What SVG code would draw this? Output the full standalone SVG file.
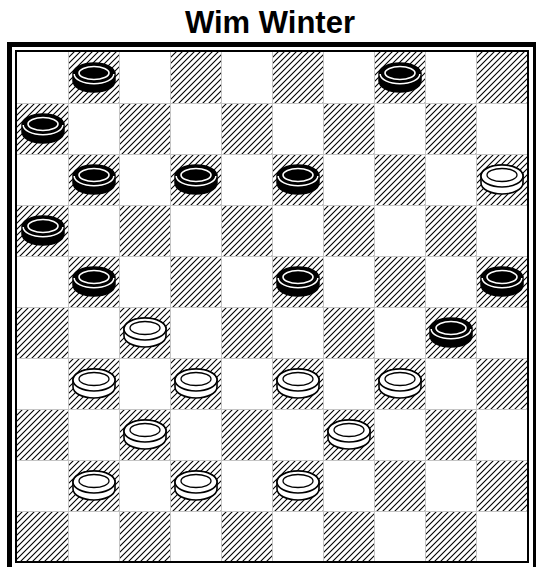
<svg xmlns="http://www.w3.org/2000/svg" xmlns:xlink="http://www.w3.org/1999/xlink" width="536" height="567" viewBox="0 0 536 567">
<style>
.title{font-family:"Liberation Sans",Arial,sans-serif;font-weight:bold;font-size:31px;fill:#000}
.dark{fill:url(#hatch)}
.grid{stroke:#c4c4c4;stroke-width:1;fill:none}
</style>
<defs>
<pattern id="hatch" patternUnits="userSpaceOnUse" x="0" y="0" width="6" height="6">
<rect width="6" height="6" fill="#fff"/>
<path d="M-1,1 L1,-1 M0,6 L6,0 M5,7 L7,5" stroke="#000" stroke-width="1.1"/>
</pattern>
<path id="sil" d="M-20.5,-3.5 A21,11 0 0 1 21.5,-3.5 L21.5,3.5 A21,11 0 0 1 -20.5,3.5 Z"/>
<g id="bp">
<use xlink:href="#sil" fill="#000" stroke="#000" stroke-width="1.5"/>
<path d="M-19.3,-3.5 A19.8,9.8 0 0 0 20.3,-3.5" fill="none" stroke="#fff" stroke-width="1.5"/>
<ellipse cx="0.5" cy="-4.5" rx="15" ry="6.5" fill="none" stroke="#fff" stroke-width="1.6"/>
</g>
<g id="wp">
<use xlink:href="#sil" fill="#fff" stroke="#000" stroke-width="1.6"/>
<ellipse cx="0.5" cy="-3.5" rx="21" ry="11" fill="#fff" stroke="#000" stroke-width="1.5"/>
<ellipse cx="0.5" cy="-4.5" rx="15" ry="6.5" fill="none" stroke="#000" stroke-width="1.3"/>
</g>
</defs>
<rect width="536" height="567" fill="#fff"/>
<text class="title" x="270" y="33" text-anchor="middle">Wim Winter</text>
<g id="board">
<rect x="9.5" y="44.5" width="526" height="525" fill="none" stroke="#000" stroke-width="5"/>
<rect x="17" y="52" width="510" height="510" fill="#fff"/>
<g id="dark-squares">
<rect class="dark" x="68" y="52" width="51" height="51"/><rect class="dark" x="170" y="52" width="51" height="51"/><rect class="dark" x="272" y="52" width="51" height="51"/><rect class="dark" x="374" y="52" width="51" height="51"/><rect class="dark" x="476" y="52" width="51" height="51"/>
<rect class="dark" x="17" y="103" width="51" height="51"/><rect class="dark" x="119" y="103" width="51" height="51"/><rect class="dark" x="221" y="103" width="51" height="51"/><rect class="dark" x="323" y="103" width="51" height="51"/><rect class="dark" x="425" y="103" width="51" height="51"/>
<rect class="dark" x="68" y="154" width="51" height="51"/><rect class="dark" x="170" y="154" width="51" height="51"/><rect class="dark" x="272" y="154" width="51" height="51"/><rect class="dark" x="374" y="154" width="51" height="51"/><rect class="dark" x="476" y="154" width="51" height="51"/>
<rect class="dark" x="17" y="205" width="51" height="51"/><rect class="dark" x="119" y="205" width="51" height="51"/><rect class="dark" x="221" y="205" width="51" height="51"/><rect class="dark" x="323" y="205" width="51" height="51"/><rect class="dark" x="425" y="205" width="51" height="51"/>
<rect class="dark" x="68" y="256" width="51" height="51"/><rect class="dark" x="170" y="256" width="51" height="51"/><rect class="dark" x="272" y="256" width="51" height="51"/><rect class="dark" x="374" y="256" width="51" height="51"/><rect class="dark" x="476" y="256" width="51" height="51"/>
<rect class="dark" x="17" y="307" width="51" height="51"/><rect class="dark" x="119" y="307" width="51" height="51"/><rect class="dark" x="221" y="307" width="51" height="51"/><rect class="dark" x="323" y="307" width="51" height="51"/><rect class="dark" x="425" y="307" width="51" height="51"/>
<rect class="dark" x="68" y="358" width="51" height="51"/><rect class="dark" x="170" y="358" width="51" height="51"/><rect class="dark" x="272" y="358" width="51" height="51"/><rect class="dark" x="374" y="358" width="51" height="51"/><rect class="dark" x="476" y="358" width="51" height="51"/>
<rect class="dark" x="17" y="409" width="51" height="51"/><rect class="dark" x="119" y="409" width="51" height="51"/><rect class="dark" x="221" y="409" width="51" height="51"/><rect class="dark" x="323" y="409" width="51" height="51"/><rect class="dark" x="425" y="409" width="51" height="51"/>
<rect class="dark" x="68" y="460" width="51" height="51"/><rect class="dark" x="170" y="460" width="51" height="51"/><rect class="dark" x="272" y="460" width="51" height="51"/><rect class="dark" x="374" y="460" width="51" height="51"/><rect class="dark" x="476" y="460" width="51" height="51"/>
<rect class="dark" x="17" y="511" width="51" height="51"/><rect class="dark" x="119" y="511" width="51" height="51"/><rect class="dark" x="221" y="511" width="51" height="51"/><rect class="dark" x="323" y="511" width="51" height="51"/><rect class="dark" x="425" y="511" width="51" height="51"/>
</g>
<path class="grid" d="M68.5,52V562M119.5,52V562M170.5,52V562M221.5,52V562M272.5,52V562M323.5,52V562M374.5,52V562M425.5,52V562M476.5,52V562M17,103.5H527M17,154.5H527M17,205.5H527M17,256.5H527M17,307.5H527M17,358.5H527M17,409.5H527M17,460.5H527M17,511.5H527"/>
<rect x="16" y="51" width="512" height="511" fill="none" stroke="#000" stroke-width="2"/>
</g>
<g id="pieces">
<g id="b-1-0"><use xlink:href="#bp" x="93.5" y="77.5"/></g>
<g id="b-7-0"><use xlink:href="#bp" x="399.5" y="77.5"/></g>
<g id="b-0-1"><use xlink:href="#bp" x="42.5" y="128.5"/></g>
<g id="b-1-2"><use xlink:href="#bp" x="93.5" y="179.5"/></g>
<g id="b-3-2"><use xlink:href="#bp" x="195.5" y="179.5"/></g>
<g id="b-5-2"><use xlink:href="#bp" x="297.5" y="179.5"/></g>
<g id="w-9-2"><use xlink:href="#wp" x="501.5" y="179.5"/></g>
<g id="b-0-3"><use xlink:href="#bp" x="42.5" y="230.5"/></g>
<g id="b-1-4"><use xlink:href="#bp" x="93.5" y="281.5"/></g>
<g id="b-5-4"><use xlink:href="#bp" x="297.5" y="281.5"/></g>
<g id="b-9-4"><use xlink:href="#bp" x="501.5" y="281.5"/></g>
<g id="w-2-5"><use xlink:href="#wp" x="144.5" y="332.5"/></g>
<g id="b-8-5"><use xlink:href="#bp" x="450.5" y="332.5"/></g>
<g id="w-1-6"><use xlink:href="#wp" x="93.5" y="383.5"/></g>
<g id="w-3-6"><use xlink:href="#wp" x="195.5" y="383.5"/></g>
<g id="w-5-6"><use xlink:href="#wp" x="297.5" y="383.5"/></g>
<g id="w-7-6"><use xlink:href="#wp" x="399.5" y="383.5"/></g>
<g id="w-2-7"><use xlink:href="#wp" x="144.5" y="434.5"/></g>
<g id="w-6-7"><use xlink:href="#wp" x="348.5" y="434.5"/></g>
<g id="w-1-8"><use xlink:href="#wp" x="93.5" y="485.5"/></g>
<g id="w-3-8"><use xlink:href="#wp" x="195.5" y="485.5"/></g>
<g id="w-5-8"><use xlink:href="#wp" x="297.5" y="485.5"/></g>
</g>
</svg>
